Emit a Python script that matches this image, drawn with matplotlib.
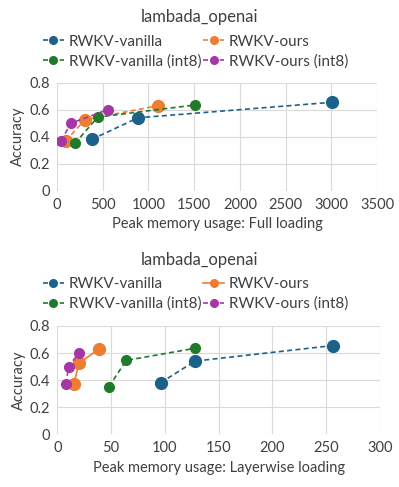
import matplotlib
matplotlib.use("Agg")
import matplotlib.pyplot as plt
from matplotlib.lines import Line2D

plt.rcParams['font.family'] = ['Lato', 'DejaVu Sans']

labels = ["RWKV-vanilla", "RWKV-ours", "RWKV-vanilla (int8)", "RWKV-ours (int8)"]
colors = ["#1C6189", "#ED7D31", "#1F7A2C", "#A636A8"]

acc_vanilla = [0.38, 0.54, 0.655]
acc_ours = [0.37, 0.525, 0.63]
acc_vanilla_int8 = [0.35, 0.545, 0.635]
acc_ours_int8 = [0.37, 0.50, 0.60]

full_vanilla = [380, 885, 3010]
full_ours = [95, 305, 1105]
full_vanilla_int8 = [195, 445, 1510]
full_ours_int8 = [44, 153, 555]

layer_vanilla = [96, 128, 256]
layer_ours = [15.5, 20, 39]
layer_vanilla_int8 = [48, 64, 128]
layer_ours_int8 = [8, 10.5, 20]

accs = [acc_vanilla, acc_ours, acc_vanilla_int8, acc_ours_int8]
fulls = [full_vanilla, full_ours, full_vanilla_int8, full_ours_int8]
layers = [layer_vanilla, layer_ours, layer_vanilla_int8, layer_ours_int8]
msizes = [8.5, 8.5, 7, 7]

fig = plt.figure(figsize=(3.99, 4.87), dpi=100)

def setup(ax, xmax, xstep, xlabel):
    ax.set_xlim(0, xmax)
    ax.set_ylim(0, 0.8)
    ax.set_xticks(range(0, xmax + 1, xstep))
    ax.set_yticks([0, 0.2, 0.4, 0.6, 0.8])
    ax.set_yticklabels(["0", "0.2", "0.4", "0.6", "0.8"])
    ax.grid(True, color="#d9d9d9", linewidth=0.8)
    ax.set_axisbelow(True)
    for s in ax.spines.values():
        s.set_visible(False)
    ax.tick_params(length=0, labelsize=10.5, colors="#404040", pad=5)
    ax.set_xlabel(xlabel, fontsize=10.5, color="#404040", labelpad=4)
    ax.set_ylabel("Accuracy", fontsize=10.5, color="#404040", labelpad=3)

ax1 = fig.add_axes([0.1429, 0.6084, 0.802, 0.2218])
for i in range(4):
    ax1.plot(fulls[i], accs[i], linestyle="--", marker="o", color=colors[i],
             markersize=msizes[i], linewidth=1.2, dashes=(3, 2))
setup(ax1, 3500, 500, "Peak memory usage: Full loading")

ax2 = fig.add_axes([0.1436, 0.1088, 0.809, 0.2218])
styles2 = ["--", "-", "--", "--"]
for i in range(4):
    kw = dict(dashes=(3, 2)) if styles2[i] == "--" else {}
    ax2.plot(layers[i], accs[i], linestyle=styles2[i], marker="o", color=colors[i],
             markersize=msizes[i], linewidth=1.2, **kw)
setup(ax2, 300, 50, "Peak memory usage: Layerwise loading")

order = [0, 2, 1, 3]
styles1 = ["--", "--", "--", "--"]
for ax, ty, ly, sty in [(ax1, 0.966, 0.894, styles1), (ax2, 0.466, 0.396, styles2)]:
    fig.text(0.5, ty, "lambada_openai", ha="center", va="center", fontsize=12, color="#404040")
    h = []
    for k in order:
        kw = dict(dashes=(3, 2)) if sty[k] == "--" else {}
        h.append(Line2D([], [], linestyle=sty[k], marker="o", color=colors[k],
                        markersize=5.5, linewidth=1.2, **kw))
    l = [labels[k] for k in order]
    ax.legend(h, l, ncol=2, loc="center", bbox_to_anchor=(0.49, ly),
              bbox_transform=fig.transFigure, frameon=False, fontsize=11,
              handlelength=1.4, handletextpad=0.3, columnspacing=0.1,
              labelspacing=0.35, labelcolor="#404040")

fig.savefig("out.png", dpi=100)
